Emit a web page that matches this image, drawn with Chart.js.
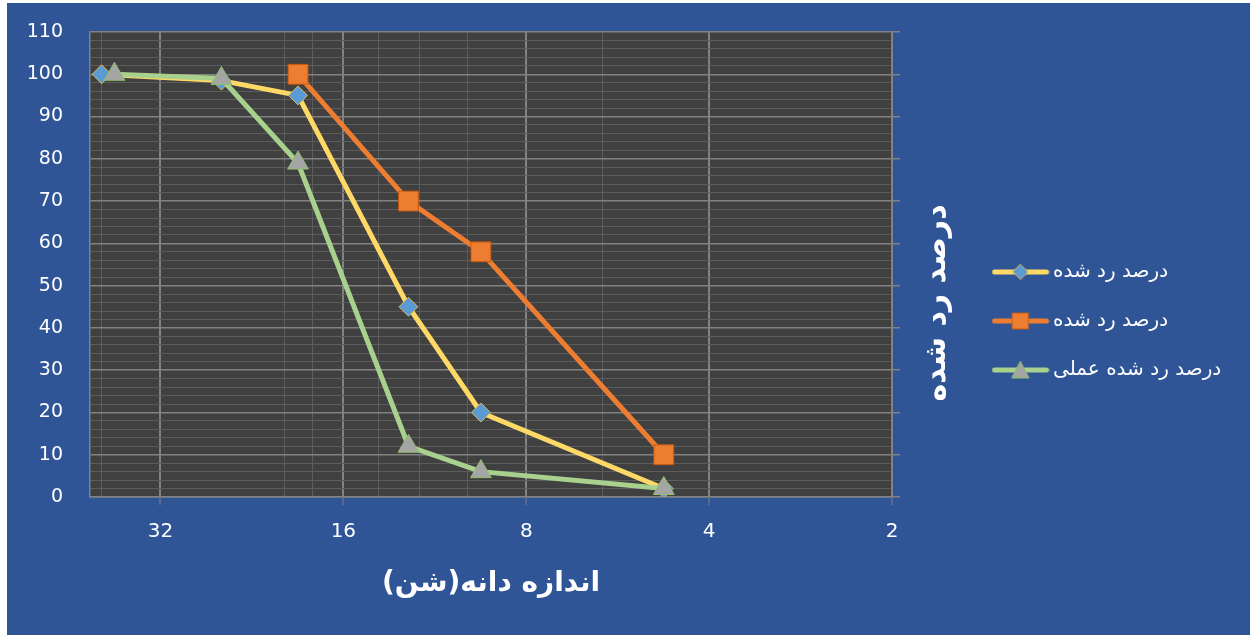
<!DOCTYPE html>
<html>
<head>
<meta charset="utf-8">
<script src="https://cdn.jsdelivr.net/npm/chart.js@4.4.1/dist/chart.umd.min.js"></script>
<style>
  html, body { margin: 0; padding: 0; background: #ffffff; }
  #wrap { position: absolute; left: 7px; top: 3px; width: 1243px; height: 632px; background: #2f5597; }
</style>
</head>
<body>
<div id="wrap"><canvas id="chart1" width="1243" height="632"></canvas></div>
<script>
// series names / titles
const seriesNames = ['درصد رد شده', 'درصد رد شده', 'درصد رد شده عملی'];
const xTitle = 'اندازه دانه(شن)';
const yTitle = 'درصد رد شده';

// sieve size (mm) and percent passing
const sizes1 = [40, 25.4, 19, 12.5, 9.5, 4.75];
const passing1 = [100, 98.5, 95, 45, 20, 2];
const sizes2 = [19, 12.5, 9.5, 4.75];
const passing2 = [100, 70, 58, 10];
const sizes3 = [38.1, 25.4, 19, 12.5, 9.5, 4.75];
const passing3 = [100, 99, 79, 12, 6, 2];

// axis ticks
const xMajor = [2, 4, 8, 16, 32];
const xMinor = [6, 10, 12, 14, 18, 20, 40];
const yMajor = [0, 10, 20, 30, 40, 50, 60, 70, 80, 90, 100, 110];

const colors = ['#ffd966', '#ed7d31', '#a9d18e'];
const markerFill = ['#5b9bd5', '#ed7d31', '#a5a5a5'];
const markerBorder = ['#d6b656', '#c55a11', '#8fbf6e'];
const legendFontSize = 20;

function pts(xs, ys) {
  return xs.map((x, i) => ({ x: x, y: ys[i] }));
}

// legend sample: line with marker in the middle
function legendIcon(i) {
  const c = document.createElement('canvas');
  c.width = 58; c.height = 22;
  const g = c.getContext('2d');
  g.strokeStyle = colors[i];
  g.lineWidth = 5;
  g.lineCap = 'round';
  g.beginPath(); g.moveTo(3, 11); g.lineTo(55, 11); g.stroke();
  g.fillStyle = markerFill[i];
  g.strokeStyle = markerBorder[i];
  g.lineWidth = 1;
  g.beginPath();
  if (i == 0) {
    g.moveTo(29, 3.5); g.lineTo(36.5, 11); g.lineTo(29, 18.5); g.lineTo(21.5, 11);
  } else if (i == 1) {
    g.rect(21, 3, 16, 16);
  } else {
    g.moveTo(29, 2.5); g.lineTo(37.5, 19); g.lineTo(20.5, 19);
  }
  g.closePath(); g.fill(); g.stroke();
  return c;
}
const icons = [legendIcon(0), legendIcon(1), legendIcon(2)];

// legend placement
const measure = document.createElement('canvas').getContext('2d');
measure.font = legendFontSize + 'px "DejaVu Sans"';
const longest = Math.max(...seriesNames.map(t => measure.measureText(t).width));
const legendLeft = 962;
const legendWidth = 29 + 45 + legendFontSize / 2 + longest + 10;
const padRight = Math.max(0, 1243 - legendLeft - legendWidth);

const plotBg = {
  id: 'plotBg',
  beforeDraw(chart) {
    const a = chart.chartArea, ctx = chart.ctx;
    ctx.save();
    ctx.fillStyle = '#404040';
    ctx.fillRect(a.left, a.top, a.right - a.left, a.bottom - a.top);
    ctx.restore();
  }
};

const yTitlePlugin = {
  id: 'yTitle',
  afterDraw(chart) {
    const a = chart.chartArea, ctx = chart.ctx;
    ctx.save();
    ctx.translate(a.right + 45, a.top + 271);
    ctx.rotate(-Math.PI / 2);
    ctx.font = 'bold 30px "DejaVu Sans"';
    ctx.fillStyle = '#ffffff';
    ctx.textAlign = 'center';
    ctx.textBaseline = 'middle';
    ctx.fillText(yTitle, 0, 0);
    ctx.restore();
  }
};

const isMajorX = v => xMajor.includes(v);
const isMajorY = v => v % 10 === 0;

const ctx = document.getElementById('chart1').getContext('2d');
const myChart = new Chart(ctx, {
  type: 'line',
  data: {
    datasets: [
      {
        label: seriesNames[0],
        data: pts(sizes1, passing1),
        borderColor: colors[0],
        borderWidth: 5,
        pointStyle: 'rectRot',
        pointRadius: 9.5,
        pointBackgroundColor: markerFill[0],
        pointBorderColor: markerBorder[0],
        pointBorderWidth: 1,
        order: 3
      },
      {
        label: seriesNames[1],
        data: pts(sizes2, passing2),
        borderColor: colors[1],
        borderWidth: 5,
        pointStyle: 'rect',
        pointRadius: 14,
        pointBackgroundColor: markerFill[1],
        pointBorderColor: markerBorder[1],
        pointBorderWidth: 1,
        order: 2
      },
      {
        label: seriesNames[2],
        data: pts(sizes3, passing3),
        borderColor: colors[2],
        borderWidth: 5,
        pointStyle: 'triangle',
        pointRadius: 12,
        pointBackgroundColor: markerFill[2],
        pointBorderColor: markerBorder[2],
        pointBorderWidth: 1,
        order: 1
      }
    ]
  },
  options: {
    responsive: false,
    animation: false,
    devicePixelRatio: 1,
    layout: { autoPadding: false, padding: { top: 29, left: 0, bottom: 0, right: padRight } },
    scales: {
      x: {
        type: 'logarithmic',
        reverse: true,
        min: 2,
        max: 41.8,
        afterBuildTicks: s => {
          s.ticks = xMajor.concat(xMinor).sort((a, b) => a - b).map(v => ({ value: v }));
        },
        afterFit: s => { s.height = 138; },
        ticks: {
          autoSkip: false,
          maxRotation: 0,
          padding: 15,
          color: '#ffffff',
          font: { family: '"DejaVu Sans"', size: 20 },
          callback: v => isMajorX(v) ? String(v) : ''
        },
        grid: {
          color: c => isMajorX(c.tick.value) ? '#828282' : '#5c5c5c',
          lineWidth: c => isMajorX(c.tick.value) ? 2 : 1,
          tickColor: c => isMajorX(c.tick.value) ? '#828282' : 'rgba(0,0,0,0)',
          tickLength: 8,
          tickWidth: 1
        },
        border: { display: true, color: '#828282', width: 1.5 },
        title: {
          display: true,
          text: xTitle,
          color: '#ffffff',
          font: { family: '"DejaVu Sans"', size: 28, weight: 'bold' },
          padding: { top: 0, bottom: 34 }
        }
      },
      y: {
        type: 'linear',
        position: 'left',
        min: 0,
        max: 110,
        afterBuildTicks: s => {
          const t = [];
          yMajor.forEach(m => {
            t.push({ value: m });
            if (m < 110) [2, 4, 6, 8].forEach(d => t.push({ value: m + d }));
          });
          s.ticks = t;
        },
        afterFit: s => { s.width = 83; },
        ticks: {
          autoSkip: false,
          padding: 0,
          color: '#ffffff',
          font: { family: '"DejaVu Sans"', size: 19 },
          callback: v => isMajorY(v) ? String(v) : ''
        },
        grid: {
          drawTicks: true,
          tickLength: 27,
          tickColor: 'rgba(0,0,0,0)',
          color: c => isMajorY(c.tick.value) ? '#828282' : '#5c5c5c',
          lineWidth: c => isMajorY(c.tick.value) ? 1.5 : 1
        },
        border: { display: true, color: '#828282', width: 1.5 }
      },
      y2: {
        type: 'linear',
        position: 'right',
        min: 0,
        max: 110,
        afterBuildTicks: s => { s.ticks = yMajor.map(v => ({ value: v })); },
        afterFit: s => { s.width = 77; },
        ticks: { display: false },
        grid: {
          drawOnChartArea: false,
          drawTicks: true,
          tickLength: 8,
          color: '#828282',
          lineWidth: 1.5
        },
        border: { display: true, color: '#828282', width: 1.5 }
      }
    },
    plugins: {
      tooltip: { enabled: false },
      legend: {
        position: 'right',
        align: 'start',
        maxWidth: 400,
        title: { display: true, text: '', padding: { top: 0, bottom: 186.6 } },
        labels: {
          usePointStyle: true,
          pointStyleWidth: 45,
          padding: 29,
          color: '#ffffff',
          font: { family: '"DejaVu Sans"', size: legendFontSize },
          generateLabels: chart => chart.data.datasets.map((ds, i) => ({
            text: ds.label,
            fontColor: '#ffffff',
            pointStyle: icons[i],
            fillStyle: 'rgba(0,0,0,0)',
            strokeStyle: 'rgba(0,0,0,0)',
            lineWidth: 0,
            hidden: false,
            datasetIndex: i
          }))
        }
      }
    }
  },
  plugins: [plotBg, yTitlePlugin]
});
</script>
</body>
</html>
